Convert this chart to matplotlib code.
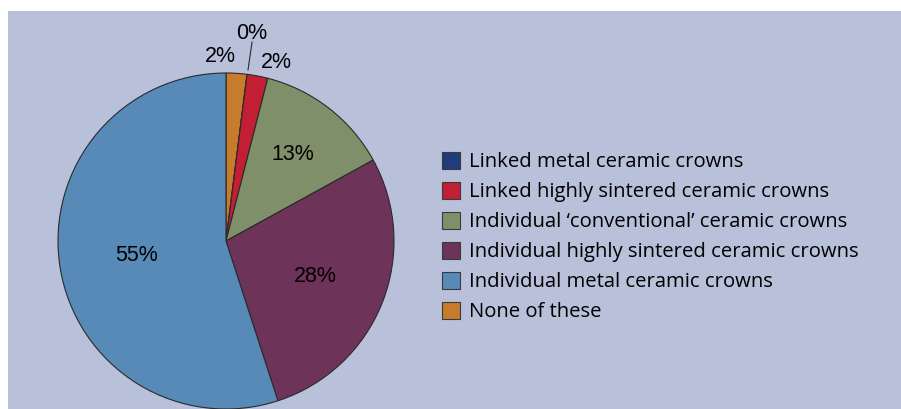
import numpy as np
import matplotlib.pyplot as plt
from matplotlib.patches import Rectangle, Patch

# Survey shares, in wedge order clockwise from 12 o'clock
categories = [
    "None of these",
    "Linked metal ceramic crowns",
    "Linked highly sintered ceramic crowns",
    "Individual \u2018conventional\u2019 ceramic crowns",
    "Individual highly sintered ceramic crowns",
    "Individual metal ceramic crowns",
]
values = [2, 0, 2, 13, 28, 55]
colors = ["#c77b2c", "#1f3d7a", "#c21f35", "#7f8f6a", "#6d3358", "#578ab6"]

# Order of entries in the legend
legend_order = [1, 2, 3, 4, 5, 0]

W, H = 901, 409
fig = plt.figure(figsize=(W / 100, H / 100), dpi=100, facecolor="white")

# Lavender panel behind the chart
fig.patches.append(Rectangle((8 / W, 0), 1 - 8 / W, 1 - 11 / H,
                             transform=fig.transFigure, facecolor="#b8c0da",
                             edgecolor="none", zorder=-5))

cx, cy, r = 226, 241, 168
ax = fig.add_axes([(cx - r) / W, (H - cy - r) / H, 2 * r / W, 2 * r / H])
ax.set_zorder(2)
ax.set_facecolor("none")

wedges, _ = ax.pie(values, colors=colors, startangle=90, counterclock=False,
                   wedgeprops=dict(edgecolor="#2a2a2a", linewidth=0.8))
ax.set_xlim(-1, 1)
ax.set_ylim(-1, 1)
ax.set_aspect("equal")
ax.axis("off")

label_font = dict(family=["Liberation Sans", "DejaVu Sans"], fontsize=15.5,
                  color="black", ha="center", va="center")

# Inside labels at the wedge's mid-angle
inner_dist = {3: 0.65, 4: 0.57, 5: 0.54}
for i, d in inner_dist.items():
    w = wedges[i]
    ang = np.deg2rad((w.theta1 + w.theta2) / 2)
    ax.text(d * np.cos(ang), d * np.sin(ang), f"{values[i]}%", **label_font)

# Outside labels for the thin wedges
outer_pos = {0: (-0.036, 1.098), 1: (0.155, 1.238), 2: (0.298, 1.065)}
for i, (x, y) in outer_pos.items():
    ax.text(x, y, f"{values[i]}%", **label_font)

# Leader line for the empty wedge
ax.plot([0.155, 0.131], [1.184, 1.018], color="#2a2a2a", lw=0.8, clip_on=False)

handles = [Patch(facecolor=colors[i], edgecolor="#3a3a3a", linewidth=0.8)
           for i in legend_order]
labels = [categories[i] for i in legend_order]
leg = fig.legend(handles, labels, loc="upper left",
                 bbox_to_anchor=(442 / W, 1 - 152 / H),
                 frameon=False, handlelength=0.9, handleheight=0.9,
                 handletextpad=0.42, labelspacing=0.47, borderaxespad=0,
                 borderpad=0,
                 prop=dict(family="Open Sans", size=14.6))
leg.set_zorder(3)

fig.savefig("out.png", dpi=100, facecolor="white")
